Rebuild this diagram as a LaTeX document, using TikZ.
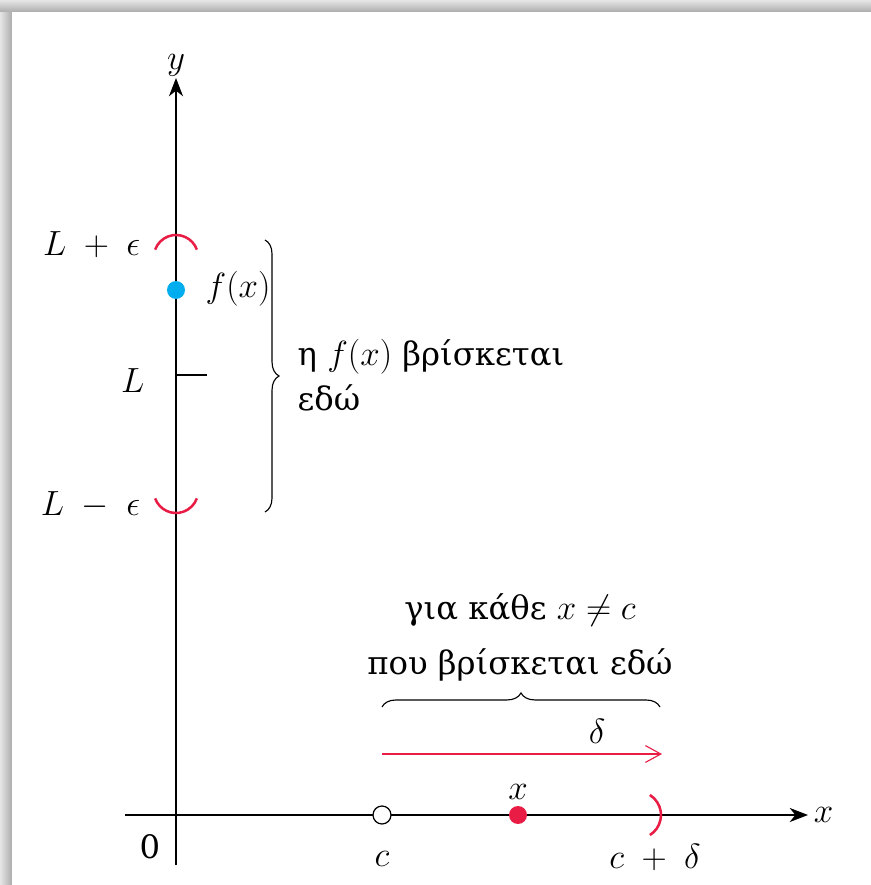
\documentclass[tikz,border=0pt]{standalone}
\usepackage{fontspec}
\setmainfont{DejaVu Serif}[Script=Greek]
\usetikzlibrary{arrows.meta,decorations.pathreplacing,positioning,calc}
\definecolor{nbhdred}{RGB}{232,28,68}
\definecolor{ptblue}{RGB}{0,174,239}

\begin{document}
\begin{tikzpicture}[
    axis/.style={line width=0.9pt, -{Stealth[length=13pt,width=10pt,inset=4pt]}},
    lbl/.style={font=\fontsize{25}{32}\selectfont, inner sep=1pt},
    txt/.style={font=\fontsize{23}{32}\selectfont, inner sep=1pt},
    bracket/.style={line width=1.8pt, draw=nbhdred},
    brc/.style={decorate, decoration={brace, amplitude=10pt}, line width=0.8pt},
    dot/.style={circle, minimum size=0.45cm, inner sep=0pt},
]
% frame
\useasboundingbox (-4.4,-1.75) rectangle (17.375,20.375);
\shade[left color=gray!20, right color=gray!65] (-4.4,-1.75) rectangle (-4.1,20.375);
\shade[top color=gray!20, bottom color=gray!65] (-4.4,20.075) rectangle (17.375,20.375);

% axes
\coordinate (xs) at (-1.275,0);
\coordinate (xe) at (15.8,0);
\coordinate (ys) at (0,-1.25);
\coordinate (ye) at (0,18.425);
\draw[axis] (xs) -- (xe);
\draw[axis] (ys) -- (ye);
\node[lbl, right=3pt of xe] (xlab) {$x$};
\node[lbl, above=0pt of ye] (ylab) {$y$};
\node[txt] (zero) at (-0.65,-0.8) {0};

% y side
\coordinate (L0) at (0,11);
\coordinate (L1) at (0.775,11);
\draw[line width=0.9pt] (L0) -- (L1);
\node[lbl, anchor=east] (Llab) at (-0.75,10.85) {$L$};
\node[lbl, anchor=east] (Lplus) at (-0.85,14.25) {$L\mathbin{\;+\;}\epsilon$};
\node[lbl, anchor=east] (Lminus) at (-0.85,7.75) {$L\mathbin{\;-\;}\epsilon$};
\draw[bracket] ($(0,13.945)+(20:0.555)$) arc[start angle=20, end angle=160, radius=0.555];
\draw[bracket] ($(0,8.105)+(200:0.555)$) arc[start angle=200, end angle=340, radius=0.555];
\node[dot, fill=ptblue] (fx) at (0,13.125) {};
\node[lbl, anchor=west] (fxlab) at (0.7,13.15) {$f(x)$};

\coordinate (bt) at (2.225,14.375);
\coordinate (bb) at (2.225,7.575);
\draw[brc] (bt) -- (bb);
\node[txt, anchor=west, align=left] (ytext) at (3.0,11.0) {η $f(x)$ βρίσκεται\\εδώ};

% x side
\coordinate (hl) at (5.15,2.7);
\coordinate (hr) at (12.1,2.7);
\draw[brc] (hl) -- (hr);
\node[txt] (xtext1) at (8.6,5.125) {για κάθε $x \neq c$};
\node[txt] (xtext2) at (8.6,3.75) {που βρίσκεται εδώ};

\coordinate (al) at (5.15,1.525);
\coordinate (ar) at (12.15,1.525);
\draw[nbhdred, line width=0.8pt, -{Straight Barb[length=11pt,width=12pt]}] (al) -- (ar);
\node[lbl] (dlab) at (10.525,2.1) {$\delta$};

\node[dot, draw, fill=white, line width=0.9pt] (c) at (5.15,0) {};
\node[dot, fill=nbhdred] (xpt) at (8.55,0) {};
\node[lbl, above=3pt of xpt] (xptlab) {$x$};
\draw[bracket] ($(11.535,0)+(-58:0.59)$) arc[start angle=-58, end angle=58, radius=0.59];
\node[lbl] (clab) at (5.15,-1.1) {$c$};
\node[lbl] (cdlab) at (11.975,-1.05) {$c\mathbin{\;+\;}\delta$};
\end{tikzpicture}
\end{document}
